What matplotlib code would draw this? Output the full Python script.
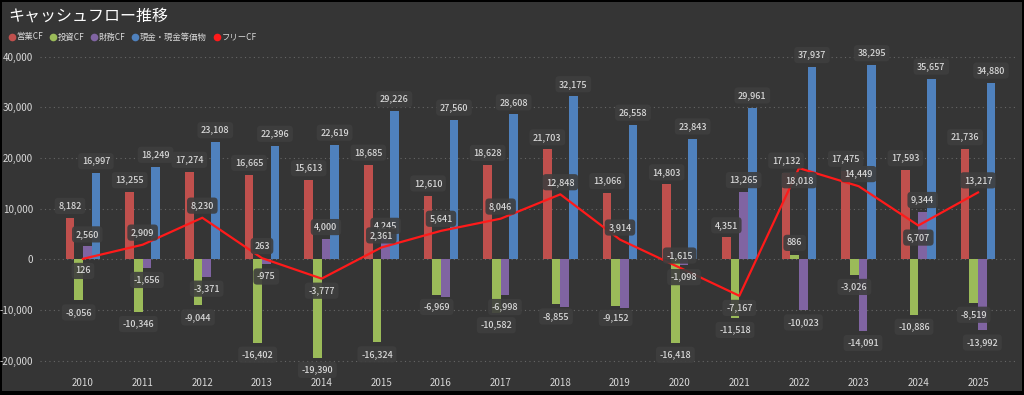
import matplotlib.pyplot as plt
import matplotlib.patches as mpatches
import numpy as np

plt.rcParams['font.family'] = ['Noto Sans CJK JP', 'DejaVu Sans']

years = [2010, 2011, 2012, 2013, 2014, 2015, 2016, 2017,
         2018, 2019, 2020, 2021, 2022, 2023, 2024, 2025]
op_cf = [8182, 13255, 17274, 16665, 15613, 18685, 12610, 18628,
         21703, 13066, 14803, 4351, 17132, 17475, 17593, 21736]
inv_cf = [-8056, -10346, -9044, -16402, -19390, -16324, -6969, -10582,
          -8855, -9152, -16418, -11518, 886, -3026, -10886, -8519]
fin_cf = [2560, -1656, -3371, -975, 4000, 4245, -7400, -6998,
          -9400, -9600, -1098, 13265, -10023, -14091, 9344, -13992]
cash = [16997, 18249, 23108, 22396, 22619, 29226, 27560, 28608,
        32175, 26558, 23843, 29961, 37937, 38295, 35657, 34880]
free_cf = [o + i for o, i in zip(op_cf, inv_cf)]
# 1 = label above the point, -1 = below (as placed in the original)
free_side = [-1, 1, 1, 1, -1, 1, 1, 1, 1, 1, 1, -1, -1, 1, -1, 1]

# labels hidden in the original because of overlap
hide_fin = {2016, 2018, 2019}

bg = '#353535'
c_op, c_inv, c_fin, c_cash, c_free = '#c0504d', '#9bbb59', '#8064a2', '#4f81bd', '#ff1a1a'
txt = '#d9d9d9'

fig = plt.figure(figsize=(10.24, 3.95), dpi=100)
fig.patch.set_facecolor('black')
fig.add_artist(mpatches.Rectangle((2 / 1024, 4 / 395), 1020 / 1024, 389 / 395,
                                  transform=fig.transFigure, facecolor=bg,
                                  edgecolor='none', zorder=0))

ax = fig.add_axes([40 / 1024, 24 / 395, 978 / 1024, 327 / 395])
ax.set_facecolor(bg)
ax.patch.set_alpha(0)

x = np.arange(len(years))
w = 0.145
series = [(op_cf, c_op), (inv_cf, c_inv), (fin_cf, c_fin), (cash, c_cash)]
offsets = [-1.5 * w, -0.5 * w, 0.5 * w, 1.5 * w]

box = dict(boxstyle='round,pad=0.4,rounding_size=0.4', facecolor='#3e3e3e',
           edgecolor='none', alpha=0.9)

for (vals, col), off in zip(series, offsets):
    ax.bar(x + off, vals, width=w, color=col, zorder=2)

for k, (vals, col) in enumerate(series):
    for i, v in enumerate(vals):
        if k == 2 and years[i] in hide_fin:
            continue
        va = 'bottom' if v >= 0 else 'top'
        dy = 1500 if v >= 0 else -1500
        ax.text(x[i] + offsets[k], v + dy, f'{v:,}', ha='center', va=va,
                fontsize=6.5, color=txt, fontweight='medium', bbox=box, zorder=5)

ax.plot(x, free_cf, color=c_free, lw=1.6, zorder=4)
for i, v in enumerate(free_cf):
    s = free_side[i]
    ax.text(x[i], v + s * 1500, f'{v:,}', ha='center',
            va='bottom' if s > 0 else 'top', fontsize=6.5,
            color=txt, fontweight='medium', bbox=box, zorder=6)

ax.set_xlim(-0.72, len(years) - 1 + 0.67)
ax.set_ylim(-22000, 42500)
ax.set_yticks(np.arange(-20000, 40001, 10000))
ax.yaxis.set_major_formatter(plt.FuncFormatter(lambda v, p: f'{int(v):,}'))
ax.set_xticks(x)
ax.set_xticklabels([str(y) for y in years])
ax.tick_params(colors=txt, labelsize=7, length=0)
ax.tick_params(axis='y', pad=5)
ax.tick_params(axis='x', pad=5)
ax.grid(axis='y', color='#666666', linestyle=(0, (1, 3)), lw=0.8, zorder=1)
for s in ax.spines.values():
    s.set_visible(False)

fig.text(8 / 1024, 1 - 16 / 395, 'キャッシュフロー推移', color='white',
         fontsize=11.5, va='center', ha='left')

legend_items = [('営業CF', c_op), ('投資CF', c_inv), ('財務CF', c_fin),
                ('現金・現金等価物', c_cash), ('フリーCF', c_free)]
handles = [plt.Line2D([], [], marker='o', linestyle='none', markersize=5.5,
                      markerfacecolor=c, markeredgecolor='none', label=l)
           for l, c in legend_items]
fig.legend(handles=handles, loc='center left', bbox_to_anchor=(4 / 1024, 1 - 37 / 395),
           ncol=5, frameon=False, fontsize=6, labelcolor=txt, handletextpad=0.05,
           columnspacing=0.7, borderaxespad=0, handlelength=1)

fig.savefig('out.png', dpi=100, facecolor=fig.get_facecolor())
